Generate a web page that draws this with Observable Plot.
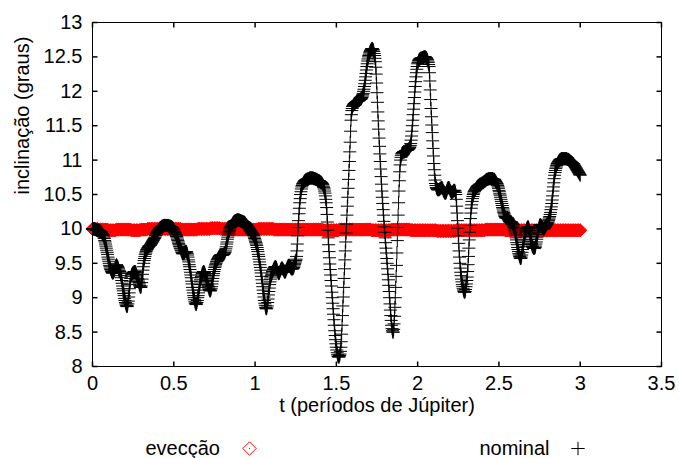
<!DOCTYPE html>
<html><head><meta charset="utf-8">
<script src="https://cdn.jsdelivr.net/npm/d3@7"></script>
<script src="https://cdn.jsdelivr.net/npm/@observablehq/plot@0.6"></script>
<style>
body{margin:0;background:#fff;}
#chart{width:679px;height:458px;background:#fff;}
#chart svg{display:block;}
</style></head><body><div id="chart"></div>
<script>
const xTicks = [0, 0.5, 1, 1.5, 2, 2.5, 3, 3.5];
const yTicks = [8, 8.5, 9, 9.5, 10, 10.5, 11, 11.5, 12, 12.5, 13];
const xLabel = "t (períodos de Júpiter)";
const yLabel = "inclinação (graus)";
const seriesNames = ["evecção", "nominal"];
const tStart = 0, tEnd = 3;

// nominal: evenly sampled from t = 0 to t = 3 (every 0.0025)
const nominal = [
10.00,10.00,10.00,10.00,10.00,10.00,9.99,9.99,9.99,9.99,9.98,9.98,9.98,9.98,9.98,9.98,9.97,9.97,9.97,9.97,
9.96,9.96,9.95,9.94,9.93,9.92,9.91,9.90,9.88,9.86,9.83,9.81,9.78,9.75,9.72,9.69,9.66,9.63,9.59,9.56,
9.53,9.50,9.47,9.45,9.43,9.41,9.40,9.38,9.37,9.36,9.36,9.36,9.37,9.38,9.40,9.42,9.44,9.46,9.47,9.48,
9.47,9.46,9.45,9.44,9.42,9.40,9.39,9.38,9.37,9.35,9.32,9.29,9.25,9.21,9.17,9.13,9.10,9.06,9.03,8.99,
8.96,8.93,8.91,8.89,8.88,8.87,8.88,8.91,8.95,9.01,9.07,9.13,9.19,9.24,9.28,9.31,9.33,9.34,9.35,9.36,
9.36,9.37,9.37,9.38,9.38,9.38,9.37,9.36,9.34,9.32,9.30,9.28,9.26,9.24,9.22,9.20,9.18,9.16,9.15,9.15,
9.17,9.22,9.27,9.34,9.40,9.45,9.50,9.54,9.57,9.60,9.63,9.65,9.67,9.69,9.70,9.71,9.72,9.73,9.74,9.75,
9.75,9.76,9.76,9.77,9.78,9.79,9.80,9.81,9.82,9.83,9.84,9.85,9.86,9.87,9.88,9.90,9.91,9.93,9.94,9.95,
9.96,9.97,9.98,9.99,10.00,10.01,10.01,10.02,10.02,10.03,10.03,10.04,10.04,10.04,10.04,10.05,10.05,10.05,10.05,10.05,
10.05,10.05,10.05,10.05,10.05,10.05,10.05,10.05,10.04,10.04,10.04,10.04,10.03,10.03,10.03,10.03,10.02,10.02,10.01,10.00,
9.99,9.98,9.96,9.95,9.93,9.92,9.90,9.89,9.87,9.85,9.83,9.81,9.79,9.77,9.75,9.74,9.72,9.71,9.69,9.68,
9.66,9.65,9.64,9.64,9.64,9.64,9.65,9.66,9.67,9.67,9.67,9.67,9.66,9.64,9.62,9.59,9.55,9.52,9.48,9.45,
9.41,9.37,9.33,9.29,9.24,9.20,9.15,9.11,9.07,9.03,9.00,8.97,8.94,8.92,8.91,8.90,8.91,8.93,8.96,9.00,
9.03,9.07,9.11,9.15,9.19,9.23,9.26,9.29,9.31,9.33,9.35,9.36,9.37,9.38,9.38,9.37,9.36,9.34,9.32,9.30,
9.27,9.25,9.23,9.20,9.18,9.16,9.14,9.12,9.11,9.10,9.10,9.11,9.13,9.16,9.20,9.24,9.28,9.32,9.35,9.38,
9.41,9.44,9.46,9.48,9.50,9.52,9.53,9.55,9.56,9.57,9.58,9.59,9.60,9.61,9.61,9.62,9.62,9.62,9.62,9.62,
9.62,9.62,9.63,9.63,9.64,9.65,9.66,9.68,9.71,9.74,9.78,9.81,9.85,9.88,9.91,9.94,9.96,9.98,10.00,10.02,
10.03,10.04,10.05,10.06,10.07,10.08,10.09,10.10,10.10,10.11,10.11,10.12,10.12,10.12,10.12,10.13,10.13,10.13,10.13,10.13,
10.13,10.13,10.12,10.12,10.12,10.12,10.11,10.11,10.11,10.11,10.10,10.10,10.10,10.10,10.09,10.09,10.08,10.07,10.06,10.06,
10.05,10.04,10.03,10.03,10.02,10.01,10.00,9.99,9.98,9.97,9.96,9.95,9.94,9.94,9.93,9.92,9.91,9.90,9.88,9.86,
9.84,9.82,9.80,9.78,9.76,9.73,9.70,9.67,9.63,9.60,9.56,9.52,9.48,9.44,9.40,9.36,9.31,9.26,9.21,9.16,
9.11,9.06,9.01,8.96,8.92,8.89,8.86,8.84,8.84,8.85,8.88,8.93,8.98,9.04,9.09,9.14,9.19,9.23,9.27,9.30,
9.32,9.34,9.36,9.38,9.39,9.41,9.42,9.43,9.44,9.45,9.45,9.45,9.44,9.43,9.41,9.39,9.37,9.36,9.35,9.35,
9.36,9.38,9.39,9.41,9.42,9.43,9.43,9.43,9.42,9.41,9.40,9.39,9.38,9.37,9.37,9.38,9.39,9.41,9.42,9.44,
9.45,9.46,9.47,9.47,9.47,9.46,9.45,9.44,9.43,9.42,9.42,9.42,9.42,9.42,9.43,9.44,9.46,9.48,9.50,9.52,
9.54,9.56,9.60,9.68,9.78,9.90,10.02,10.12,10.22,10.30,10.38,10.44,10.50,10.54,10.58,10.61,10.63,10.65,10.66,10.67,
10.68,10.69,10.70,10.70,10.71,10.71,10.72,10.72,10.72,10.72,10.73,10.73,10.73,10.73,10.74,10.74,10.74,10.74,10.74,10.74,
10.74,10.74,10.74,10.74,10.73,10.73,10.73,10.73,10.73,10.72,10.72,10.72,10.72,10.71,10.71,10.70,10.70,10.70,10.70,10.69,
10.69,10.68,10.68,10.67,10.67,10.66,10.65,10.64,10.62,10.60,10.58,10.55,10.52,10.48,10.43,10.38,10.31,10.21,10.10,9.98,
9.87,9.77,9.67,9.58,9.49,9.41,9.33,9.25,9.17,9.08,9.00,8.92,8.84,8.76,8.68,8.60,8.52,8.45,8.39,8.33,
8.28,8.24,8.20,8.17,8.15,8.14,8.14,8.14,8.16,8.18,8.22,8.28,8.36,8.47,8.60,8.74,8.88,9.01,9.15,9.28,
9.42,9.55,9.68,9.81,9.94,10.07,10.20,10.33,10.46,10.59,10.72,10.85,10.98,11.12,11.26,11.42,11.58,11.66,11.72,11.75,
11.78,11.79,11.80,11.81,11.82,11.82,11.83,11.83,11.84,11.84,11.85,11.85,11.86,11.86,11.86,11.86,11.87,11.87,11.88,11.88,
11.89,11.89,11.90,11.91,11.93,11.95,11.97,12.00,12.03,12.07,12.11,12.16,12.21,12.26,12.31,12.36,12.40,12.44,12.47,12.50,
12.52,12.54,12.56,12.58,12.59,12.60,12.61,12.62,12.62,12.62,12.61,12.60,12.58,12.55,12.52,12.48,12.43,12.35,12.25,12.12,
11.98,11.84,11.70,11.57,11.45,11.32,11.20,11.09,10.98,10.87,10.76,10.65,10.55,10.46,10.37,10.28,10.20,10.11,10.03,9.95,
9.87,9.80,9.72,9.65,9.57,9.50,9.42,9.34,9.26,9.18,9.09,9.00,8.91,8.82,8.74,8.67,8.60,8.55,8.52,8.50,
8.50,8.54,8.62,8.73,8.86,9.00,9.15,9.31,9.47,9.65,9.83,10.02,10.20,10.38,10.55,10.70,10.83,10.93,11.00,11.04,
11.07,11.09,11.10,11.11,11.11,11.12,11.12,11.12,11.12,11.13,11.13,11.14,11.14,11.14,11.14,11.15,11.15,11.16,11.16,11.17,
11.18,11.19,11.21,11.24,11.29,11.35,11.42,11.50,11.58,11.66,11.74,11.82,11.91,11.99,12.07,12.14,12.21,12.27,12.32,12.36,
12.40,12.42,12.44,12.45,12.46,12.47,12.47,12.48,12.48,12.48,12.48,12.49,12.49,12.49,12.49,12.50,12.50,12.50,12.50,12.50,
12.49,12.49,12.48,12.47,12.46,12.44,12.42,12.39,12.36,12.27,12.15,12.02,11.88,11.75,11.63,11.51,11.40,11.28,11.17,11.06,
10.95,10.86,10.78,10.71,10.66,10.63,10.60,10.59,10.58,10.57,10.57,10.57,10.57,10.57,10.58,10.58,10.59,10.59,10.60,10.60,
10.60,10.59,10.58,10.56,10.55,10.54,10.53,10.52,10.52,10.52,10.53,10.54,10.56,10.58,10.59,10.60,10.60,10.60,10.59,10.58,
10.56,10.55,10.54,10.53,10.53,10.53,10.54,10.54,10.55,10.56,10.56,10.56,10.55,10.53,10.50,10.43,10.33,10.23,10.12,10.01,
9.90,9.79,9.68,9.59,9.50,9.43,9.37,9.32,9.27,9.23,9.19,9.16,9.13,9.11,9.09,9.08,9.08,9.09,9.12,9.16,
9.20,9.25,9.30,9.38,9.48,9.60,9.72,9.84,9.95,10.05,10.15,10.23,10.30,10.35,10.40,10.44,10.47,10.50,10.52,10.54,
10.55,10.56,10.57,10.58,10.59,10.60,10.61,10.62,10.62,10.63,10.63,10.64,10.64,10.65,10.65,10.65,10.65,10.66,10.66,10.67,
10.67,10.67,10.68,10.68,10.69,10.69,10.70,10.70,10.71,10.71,10.72,10.72,10.72,10.72,10.73,10.73,10.73,10.73,10.73,10.73,
10.73,10.73,10.73,10.73,10.73,10.73,10.72,10.72,10.72,10.72,10.71,10.70,10.69,10.68,10.67,10.66,10.65,10.63,10.61,10.59,
10.56,10.54,10.51,10.49,10.46,10.43,10.40,10.37,10.34,10.31,10.29,10.26,10.24,10.22,10.20,10.18,10.17,10.16,10.16,10.16,
10.16,10.16,10.15,10.14,10.13,10.12,10.11,10.10,10.10,10.10,10.10,10.10,10.09,10.08,10.07,10.06,10.04,10.02,10.00,9.97,
9.94,9.91,9.87,9.84,9.80,9.77,9.73,9.70,9.67,9.64,9.62,9.60,9.58,9.57,9.57,9.59,9.62,9.66,9.70,9.74,
9.77,9.81,9.84,9.88,9.91,9.94,9.96,9.98,10.00,10.01,10.02,10.03,10.03,10.02,10.00,9.97,9.93,9.89,9.85,9.82,
9.79,9.77,9.75,9.74,9.73,9.72,9.72,9.72,9.72,9.73,9.75,9.78,9.81,9.85,9.88,9.92,9.95,9.98,10.01,10.03,
10.05,10.06,10.06,10.06,10.05,10.04,10.03,10.02,10.01,10.00,10.00,10.00,10.01,10.02,10.03,10.04,10.05,10.06,10.07,10.08,
10.09,10.10,10.12,10.14,10.16,10.18,10.21,10.24,10.28,10.32,10.37,10.42,10.48,10.55,10.61,10.67,10.73,10.78,10.82,10.85,
10.88,10.90,10.92,10.94,10.95,10.96,10.97,10.98,10.99,11.00,11.00,11.01,11.01,11.02,11.02,11.02,11.02,11.02,11.02,11.02,
11.02,11.02,11.02,11.02,11.02,11.02,11.02,11.02,11.01,11.01,11.01,11.01,11.00,11.00,10.99,10.99,10.98,10.98,10.97,10.97,
10.96,10.96,10.95,10.95,10.94,10.93,10.92,10.91,10.90,10.89,10.88,10.87,10.86,10.85,10.84,10.83,10.82,10.81,10.80,10.79,
10.78
];

// evecção: evenly sampled from t = 0 to t = 3 (every 0.01)
const eveccao = [
10.00,10.00,10.00,10.00,9.99,9.99,9.99,9.99,9.99,9.99,9.98,9.98,9.98,9.98,9.98,9.99,9.99,9.99,9.99,9.99,9.99,9.99,9.99,9.99,9.98,
9.98,9.98,9.98,9.98,9.98,9.99,9.99,9.99,9.99,10.00,10.00,10.00,10.00,10.00,10.00,10.00,10.00,10.00,10.00,10.00,10.00,10.00,10.00,10.00,10.00,
10.00,10.00,10.00,10.00,10.00,9.99,9.99,9.99,9.99,9.99,9.99,9.99,9.99,9.99,9.99,10.00,10.00,10.00,10.00,10.00,10.00,10.00,10.00,10.01,10.01,
10.01,10.01,10.01,10.01,10.00,10.00,10.00,10.00,10.00,10.00,10.00,9.99,9.99,9.99,9.99,9.99,9.99,9.99,9.99,9.99,9.99,9.99,9.99,9.99,9.99,
9.99,9.99,10.00,10.00,10.00,10.00,10.00,10.00,10.00,10.00,10.00,10.00,9.99,9.99,9.99,9.99,9.99,9.99,9.99,9.99,9.99,9.99,9.99,9.99,9.99,
9.99,9.99,9.99,9.99,9.99,9.99,9.99,9.99,9.99,9.99,9.99,9.99,9.99,9.99,9.99,9.99,9.99,9.98,9.98,9.98,9.98,9.98,9.98,9.98,9.98,
9.98,9.98,9.99,9.99,9.99,9.99,9.99,9.99,9.99,9.99,9.99,9.99,9.99,9.99,9.99,9.99,9.99,9.99,9.99,9.99,9.99,9.99,9.98,9.98,9.98,
9.98,9.98,9.98,9.98,9.98,9.98,9.98,9.98,9.98,9.99,9.99,9.99,9.99,9.99,9.99,9.99,9.99,9.99,9.99,9.99,9.99,9.98,9.98,9.98,9.98,
9.98,9.98,9.98,9.98,9.98,9.98,9.98,9.98,9.98,9.98,9.98,9.98,9.97,9.97,9.97,9.97,9.97,9.97,9.97,9.97,9.97,9.97,9.97,9.97,9.98,
9.98,9.98,9.98,9.98,9.98,9.98,9.98,9.98,9.98,9.98,9.98,9.98,9.98,9.98,9.98,9.98,9.98,9.99,9.99,9.99,9.99,9.99,9.99,9.99,9.99,
9.99,9.99,9.99,9.99,9.98,9.98,9.98,9.98,9.98,9.98,9.98,9.98,9.98,9.98,9.98,9.98,9.98,9.98,9.98,9.98,9.98,9.98,9.98,9.98,9.98,
9.98,9.98,9.98,9.98,9.98,9.98,9.98,9.98,9.98,9.98,9.98,9.98,9.98,9.98,9.98,9.98,9.98,9.98,9.98,9.98,9.98,9.98,9.98,9.98,9.98,
9.98
];

const sample = (arr) => arr.map((v, i) => ({t: tStart + (tEnd - tStart) * i / (arr.length - 1), v}));
const nominalData = sample(nominal);
const eveccaoData = sample(eveccao);

const FONT = "'Liberation Sans', Arial, Helvetica, sans-serif";

const plusSym = {draw(c) { const h = 6.5; c.moveTo(-h, 0); c.lineTo(h, 0); c.moveTo(0, -h); c.lineTo(0, h); }};
const diamondSym = {draw(c) { const h = 6.6; c.moveTo(0, -h); c.lineTo(h, 0); c.lineTo(0, h); c.lineTo(-h, 0); c.closePath(); }};
const TL = 5;
const tickUp = {draw(c) { c.moveTo(0, 0); c.lineTo(0, -TL); }};
const tickDown = {draw(c) { c.moveTo(0, 0); c.lineTo(0, TL); }};
const tickRight = {draw(c) { c.moveTo(0, 0); c.lineTo(TL, 0); }};
const tickLeft = {draw(c) { c.moveTo(0, 0); c.lineTo(-TL, 0); }};
const xMin = 0, xMax = 3.5, yMin = 8, yMax = 13;

const chart = Plot.plot({
  width: 679, height: 425,
  marginLeft: 92, marginRight: 18, marginTop: 22, marginBottom: 59,
  x: {domain: [xMin, xMax]},
  y: {domain: [yMin, yMax]},
  style: {fontFamily: FONT, fontSize: "20px", color: "black", background: "white", overflow: "visible"},
  marks: [
    Plot.dot(eveccaoData, {x: "t", y: "v", symbol: diamondSym, fill: "#ff0000", stroke: "#ff0000", strokeWidth: 1, r: 6}),
    Plot.dot(nominalData, {x: "t", y: "v", symbol: plusSym, fill: "none", stroke: "black", strokeWidth: 1, r: 5}),
    Plot.frame({stroke: "black", strokeWidth: 1}),
    Plot.dot(xTicks, {x: d => d, y: () => yMin, symbol: tickUp, stroke: "black", r: 3}),
    Plot.dot(xTicks, {x: d => d, y: () => yMax, symbol: tickDown, stroke: "black", r: 3}),
    Plot.dot(yTicks, {x: () => xMin, y: d => d, symbol: tickRight, stroke: "black", r: 3}),
    Plot.dot(yTicks, {x: () => xMax, y: d => d, symbol: tickLeft, stroke: "black", r: 3}),
    Plot.axisX({ticks: xTicks, tickSize: 0, tickPadding: 9, tickFormat: d => String(d), label: null, fontSize: 20}),
    Plot.axisY({ticks: yTicks, tickSize: 0, tickPadding: 10, tickFormat: d => String(d), label: null, fontSize: 20}),
    Plot.text([xLabel], {text: d => d, frameAnchor: "bottom", dy: 45, fontSize: 20, fill: "black"}),
    Plot.text([yLabel], {text: d => d, frameAnchor: "left", dx: -70, rotate: -90, fontSize: 20, fill: "black"})
  ]
});
document.getElementById("chart").appendChild(chart);

// legend below the plot
const leg = d3.create("svg").attr("width", 679).attr("height", 33)
  .style("display", "block").style("font-family", FONT).style("font-size", "20px");
const items = [
  {name: seriesNames[0], textEnd: 220, cx: 249.5, kind: "diamond"},
  {name: seriesNames[1], textEnd: 549.5, cx: 578, kind: "plus"}
];
for (const it of items) {
  leg.append("text").attr("x", it.textEnd).attr("y", 29.5).attr("text-anchor", "end")
    .attr("fill", "black").text(it.name);
  const g = leg.append("g").attr("transform", `translate(${it.cx},23.5)`);
  if (it.kind === "diamond") {
    g.append("path").attr("d", "M0,-6.7L6.7,0L0,6.7L-6.7,0Z").attr("fill", "none").attr("stroke", "#ff0000").attr("stroke-width", 1);
    g.append("rect").attr("x", -0.5).attr("y", -0.5).attr("width", 1).attr("height", 1).attr("fill", "#ff0000");
  } else {
    g.append("path").attr("d", "M-6.7,0H6.7M0,-6.7V6.7").attr("fill", "none").attr("stroke", "black").attr("stroke-width", 1);
  }
}
document.getElementById("chart").appendChild(leg.node());
</script>
</body></html>
